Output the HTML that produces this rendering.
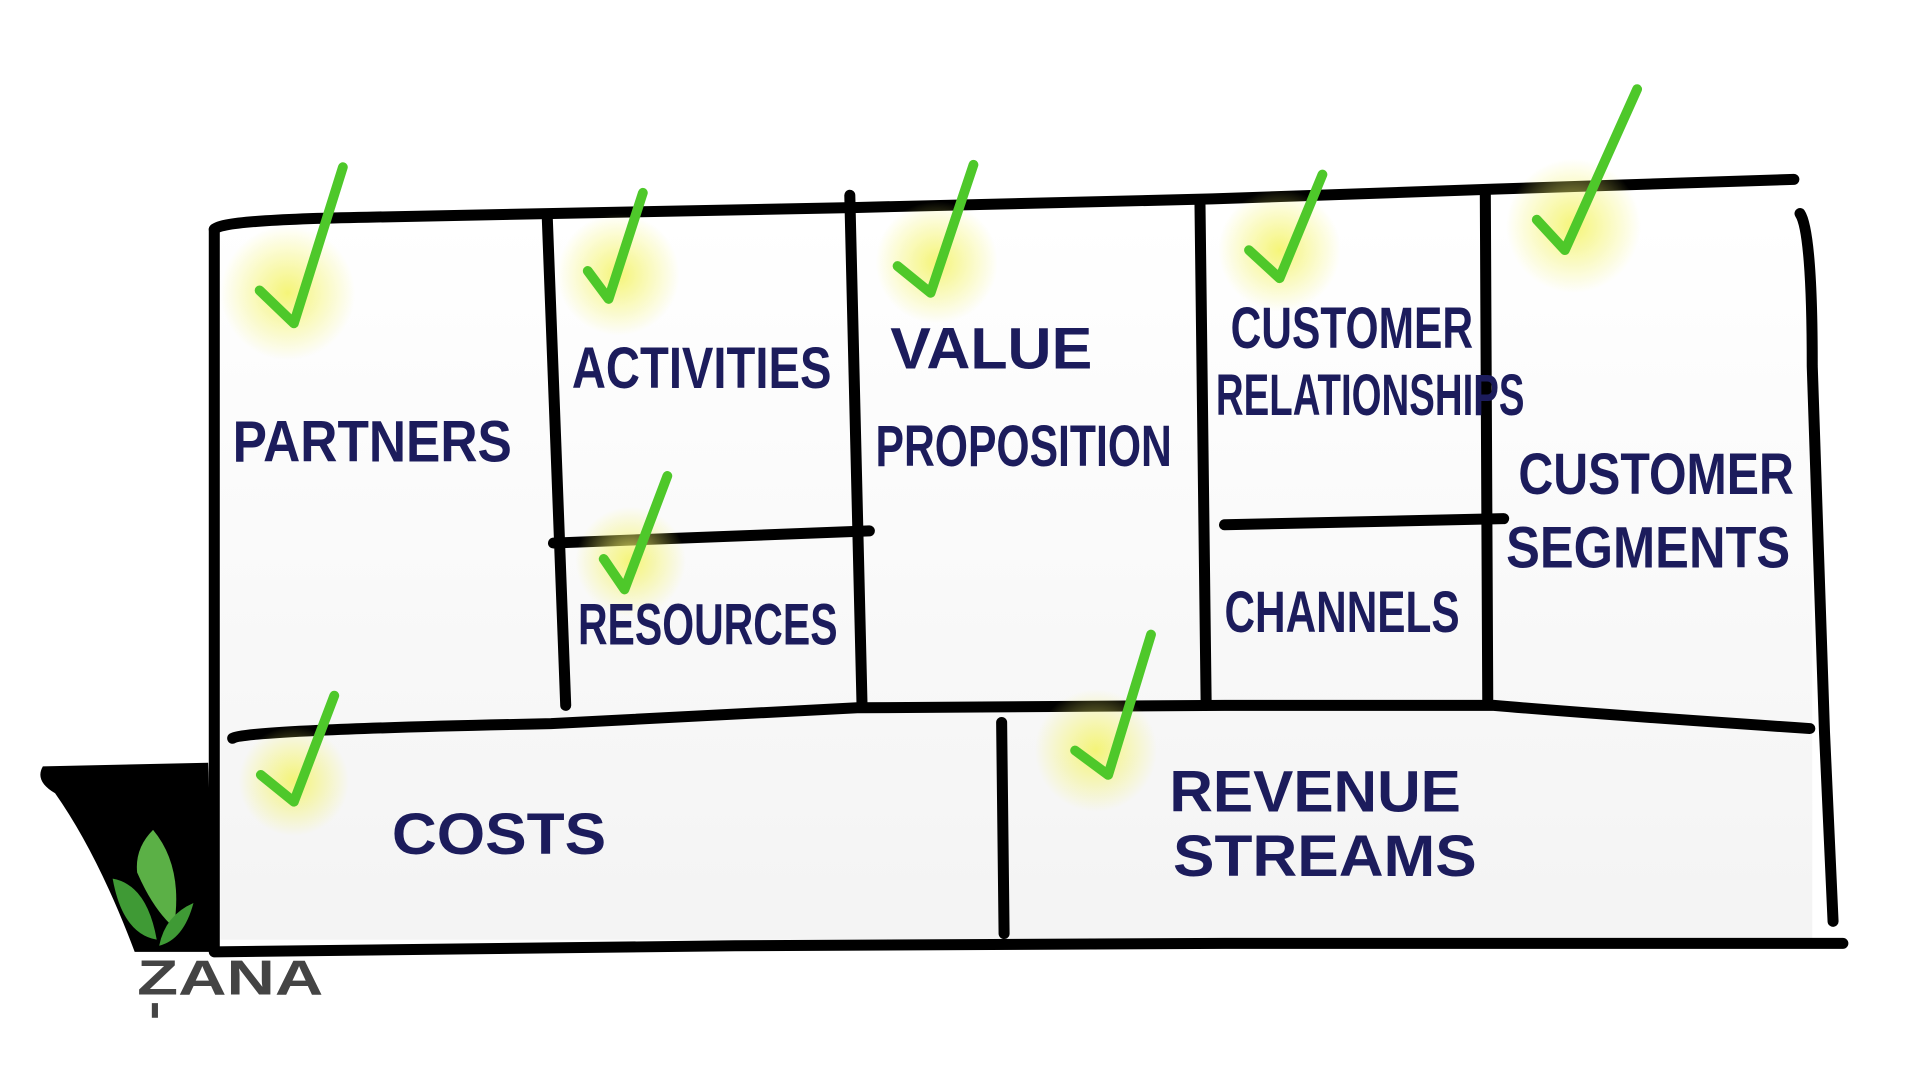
<!DOCTYPE html>
<html><head><meta charset="utf-8"><style>
html,body{margin:0;padding:0;background:#fff;width:1920px;height:1080px;overflow:hidden}
svg{display:block}
text{font-family:"Liberation Sans Narrow","Liberation Sans",sans-serif;font-weight:bold;fill:#1c1c5c}
</style></head><body>
<svg width="1920" height="1080" viewBox="0 0 1568 885" preserveAspectRatio="none">
<defs>
<radialGradient id="g"><stop offset="0" stop-color="#f4f46a" stop-opacity="0.9"/><stop offset="1" stop-color="#f4f46a" stop-opacity="0"/></radialGradient>
<linearGradient id="sh" x1="0" y1="0" x2="0" y2="1"><stop offset="0" stop-color="#fff"/><stop offset="1" stop-color="#e8e8e8"/></linearGradient>
</defs>
<rect width="1568" height="885" fill="#fff"/>
<rect x="180" y="180" width="1300" height="590" fill="url(#sh)" opacity="0.5"/>
<!-- left black bracket -->
<path d="M35 628 L170 625 L175 775 L185 780 L110 780 Q80 700 45 650 Q28 640 35 628 Z" fill="#000"/>
<g fill="none" stroke="#000" stroke-width="9" stroke-linecap="round">
<path d="M175 188 Q180 180 300 178 L700 170 L990 163 L1220 155 L1465 147"/>
<path d="M175 188 L175 778"/>
<path d="M175 780 L600 775 L1000 773 L1505 773"/>
<path d="M1470 175 Q1480 190 1480 300 L1490 600 L1497 755"/>
<path d="M190 605 Q200 598 450 593 L700 580 L1000 578 L1220 578 Q1300 585 1478 597"/>
<path d="M447 180 L462 578"/>
<path d="M694 160 L704 578"/>
<path d="M980 168 L985 575"/>
<path d="M1213 157 L1215 575"/>
<path d="M818 592 L820 765"/>
<path d="M452 445 L710 435"/>
<path d="M1000 430 L1228 425"/>
</g>
<!-- glows -->
<g fill="url(#g)">
<circle cx="235" cy="240" r="55"/><circle cx="505" cy="225" r="50"/><circle cx="765" cy="215" r="50"/>
<circle cx="1045" cy="205" r="50"/><circle cx="1285" cy="185" r="55"/><circle cx="515" cy="460" r="45"/>
<circle cx="240" cy="640" r="45"/><circle cx="895" cy="615" r="50"/>
</g>
<g fill="none" stroke="#4ec82a" stroke-width="8" stroke-linecap="round" stroke-linejoin="round">
<path d="M212 238 L240 265 L280 137"/>
<path d="M480 222 L497 245 L525 158"/>
<path d="M733 218 L760 240 L795 135"/>
<path d="M1020 205 L1045 228 L1080 143"/>
<path d="M1255 180 L1278 205 L1337 73"/>
<path d="M493 458 L510 483 L545 390"/>
<path d="M213 635 L240 657 L273 570"/>
<path d="M878 615 L905 635 L940 520"/>
</g>
<g font-size="48">
<text x="190" y="378" textLength="228" lengthAdjust="spacingAndGlyphs">PARTNERS</text>
<text x="467" y="318" textLength="212" lengthAdjust="spacingAndGlyphs">ACTIVITIES</text>
<text x="472" y="528" textLength="212" lengthAdjust="spacingAndGlyphs">RESOURCES</text>
<text x="727" y="302" textLength="165" lengthAdjust="spacingAndGlyphs">VALUE</text>
<text x="715" y="382" textLength="242" lengthAdjust="spacingAndGlyphs">PROPOSITION</text>
<text x="1005" y="285" textLength="198" lengthAdjust="spacingAndGlyphs">CUSTOMER</text>
<text x="993" y="340" textLength="252" lengthAdjust="spacingAndGlyphs">RELATIONSHIPS</text>
<text x="1000" y="518" textLength="192" lengthAdjust="spacingAndGlyphs">CHANNELS</text>
<text x="1240" y="405" textLength="225" lengthAdjust="spacingAndGlyphs">CUSTOMER</text>
<text x="1230" y="465" textLength="232" lengthAdjust="spacingAndGlyphs">SEGMENTS</text>
<text x="320" y="700" textLength="175" lengthAdjust="spacingAndGlyphs">COSTS</text>
<text x="955" y="665" textLength="238" lengthAdjust="spacingAndGlyphs">REVENUE</text>
<text x="958" y="718" textLength="248" lengthAdjust="spacingAndGlyphs">STREAMS</text>
</g>
<!-- logo -->
<path d="M125 680 Q150 710 142 760 Q125 745 112 715 Q110 695 125 680Z" fill="#5bb046"/>
<path d="M92 720 Q120 725 128 770 Q100 765 92 720Z" fill="#3f9a35"/>
<path d="M158 740 Q150 770 130 775 Q135 750 158 740Z" fill="#3f9a35"/>
<text x="112" y="815" font-size="40" style="font-family:'Liberation Sans',sans-serif;fill:#444" textLength="152" lengthAdjust="spacingAndGlyphs">ZANA</text>
<rect x="124" y="822" width="5" height="12" fill="#444"/>
</svg>
</body></html>
